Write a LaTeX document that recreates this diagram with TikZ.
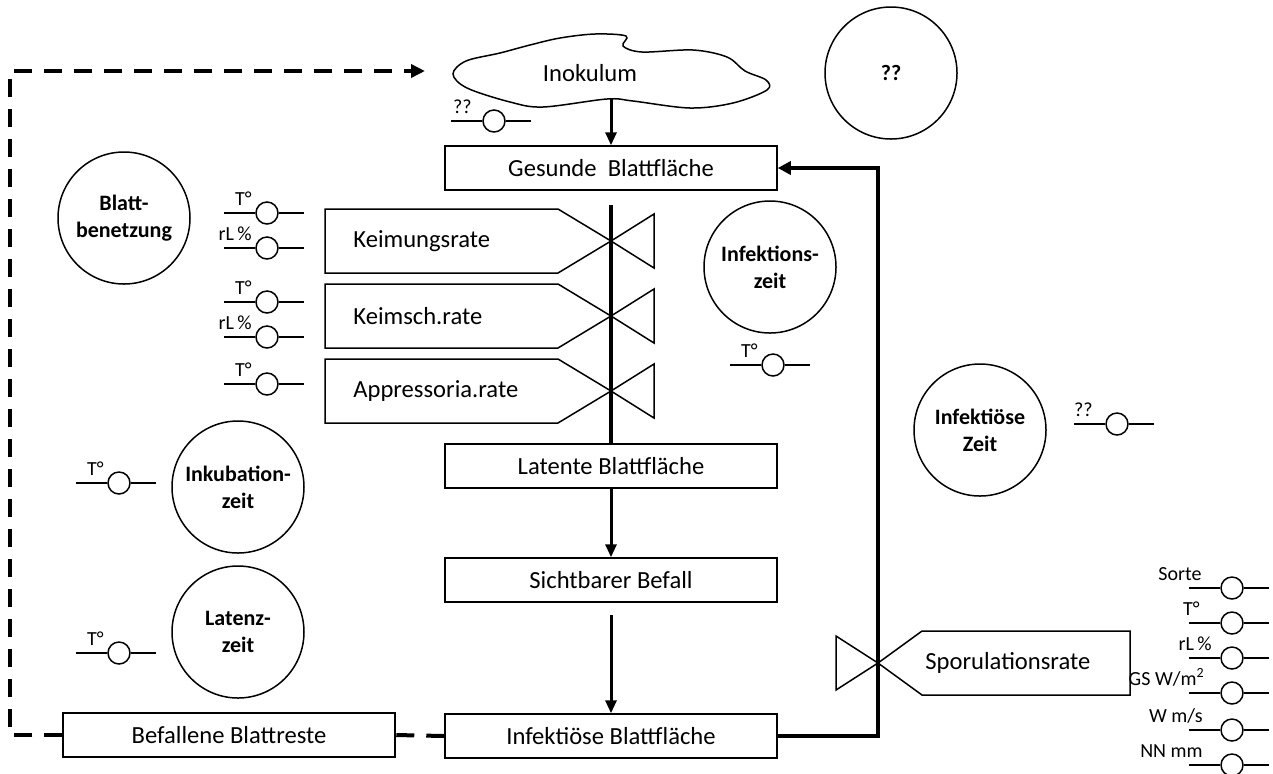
\documentclass[tikz,border=0pt]{standalone}
\usepackage{fontspec}
\setmainfont{Carlito}
\usetikzlibrary{arrows.meta,positioning}

% converter: small circle on a short line, label above left
\newcommand{\conv}[4][15]{%
  \node[conv] (#2) at (#3) {};
  \draw[thin line] (#2.west) -- ++(-31,0);
  \draw[thin line] (#2.east) -- ++(25,0);
  \path (#3) ++(-#1,-8) node[convlabel,anchor=base east] (#2-l) {#4};
}

\begin{document}
\begin{tikzpicture}[x=0.5pt,y=-0.5pt]
\tikzstyle{thin line}=[line width=0.75pt]
\tikzstyle{stock}=[rectangle,draw,line width=0.75pt,minimum width=166pt,minimum height=22pt,inner sep=0pt,font=\fontsize{12.3}{14}\selectfont]
\tikzstyle{aux}=[circle,draw,line width=0.75pt,minimum size=66pt,inner sep=0pt,align=center,font=\bfseries\fontsize{11}{13.5}\selectfont]
\tikzstyle{conv}=[circle,draw,line width=0.75pt,minimum size=11pt,inner sep=0pt]
\tikzstyle{convlabel}=[inner sep=0pt,font=\fontsize{10}{12}\selectfont]
\tikzstyle{ratetext}=[anchor=west,inner sep=0pt,font=\fontsize{12.3}{14}\selectfont]
\tikzstyle{flow}=[line width=1.8pt]
\tikzstyle{link}=[line width=1.5pt,-{Triangle[length=6.5pt,width=5.5pt]}]
\tikzstyle{debris}=[line width=2pt,dash pattern=on 9pt off 6pt]

\useasboundingbox (0,0) rectangle (1273,773);

% Inokulum cloud
\draw[thin line] plot[smooth cycle,tension=0.55] coordinates {(453,74) (466,61) (500,53) (530,45) (560,38) (595,34) (626,36) (623,46) (642,52) (693,50) (727,57) (745,71) (766,80) (767,90) (733,103) (690,108) (633,101) (607,99) (543,107) (510,102) (467,88)};
\node[inner sep=0pt,font=\fontsize{12.3}{14}\selectfont] (inok) at (590,73) {Inokulum};
\coordinate (inokbot) at (611,99);

% stocks
\node[stock] (gesund) at (611,168) {Gesunde\ \ Blattfläche};
\node[stock] (latent) at (611,466) {Latente Blattfläche};
\node[stock] (sicht) at (611,580) {Sichtbarer Befall};
\node[stock] (infekt) at (611,736) {Infektiöse Blattfläche};
\node[stock] (befall) at (229,735) {Befallene Blattreste};

% auxiliaries
\node[aux] (unbek) at (891,73) {??};
\node[aux] (nass) at (124,218) {Blatt-\\benetzung};
\node[aux] (infzeit) at (770,267) {Infektions-\\zeit};
\node[aux] (inkub) at (238,487) {Inkubation-\\zeit};
\node[aux] (latenz) at (238,632) {Latenz-\\zeit};
\node[aux] (infektzeit) at (980,430) {Infektiöse\\Zeit};

% rates with valves
\draw[thin line] (325,209) -- (558,209) -- (611,241) -- (558,273) -- (325,273) -- cycle;
\draw[thin line] (611,241) -- (654,214) -- (654,268) -- cycle;
\node[ratetext] (keim) at (353,241) {Keimungsrate};
\draw[thin line] (325,284) -- (558,284) -- (611,316) -- (558,348) -- (325,348) -- cycle;
\draw[thin line] (611,316) -- (654,289) -- (654,343) -- cycle;
\node[ratetext] (keimsch) at (353,316) {Keimsch.rate};
\draw[thin line] (325,359) -- (558,359) -- (611,391) -- (558,423) -- (325,423) -- cycle;
\draw[thin line] (611,391) -- (654,364) -- (654,418) -- cycle;
\node[ratetext] (appress) at (353,391) {Appressoria.rate};

\coordinate (spv) at (878,663);
\draw[thin line] (spv) -- (922,631) -- (1130,631) -- (1130,695) -- (922,695) -- cycle;
\draw[thin line] (spv) -- (836,636) -- (836,690) -- cycle;
\node[ratetext] (sporu) at (925,663) {Sporulationsrate};

% flows
\draw[link] (inokbot) -- (gesund.north);
\draw[flow] ([yshift=-7pt]gesund.south) -- (latent.north);
\draw[link] (latent.south) -- (sicht.north);
\draw[link] ([yshift=-6pt]sicht.south) -- (infekt.north);
\draw[flow,-{Triangle[length=6.5pt,width=6.5pt]}] (infekt.east) -- (infekt.east -| spv) -- (spv |- gesund.east) -- (gesund.east);

% debris back to inoculum
\coordinate (dcorner) at (10,735);
\coordinate (dtop) at (10,71);
\coordinate (dend) at (425,71);
\draw[debris] (infekt.west) -- (befall.east);
\draw[debris,-{Triangle[length=7pt,width=6.5pt]}] (befall.west) -- (dcorner) -- (dtop) -- (dend);

% converters
\conv[22]{cinok}{494,121}{??}
\conv{ct1}{267,213}{T°}
\conv{cr1}{267,248}{rL\,\%}
\conv{ct2}{267,302}{T°}
\conv{cr2}{267,337}{rL\,\%}
\conv{ct3}{267,384}{T°}
\conv{ct4}{773,365}{T°}
\conv[24]{cunbek}{1117,424}{??}
\conv{ct5}{119,483}{T°}
\conv{ct6}{119,653}{T°}
\conv[30]{csorte}{1232,588}{Sorte}
\conv[32]{ct7}{1232,623}{T°}
\conv[20]{cr3}{1232,658}{rL\,\%}
\conv[27]{cgs}{1232,693}{GS W/m\textsuperscript{2}}
\conv[29]{cwind}{1232,730}{W m/s}
\conv[29]{cnn}{1232,765}{NN mm}
\end{tikzpicture}
\end{document}
